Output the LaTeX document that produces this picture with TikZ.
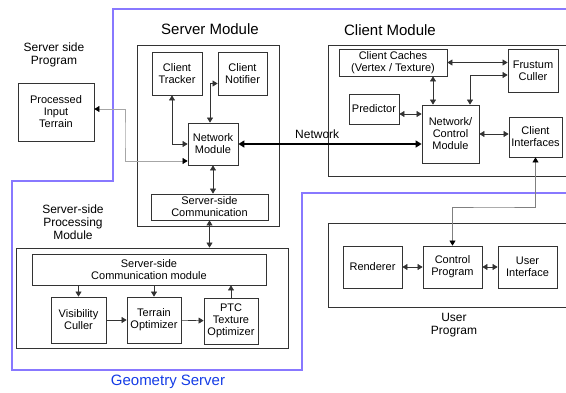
\documentclass[tikz,border=0pt]{standalone}
\usepackage{fontspec}
\setmainfont{Liberation Sans}
\usetikzlibrary{arrows.meta, positioning}
\definecolor{FrameBlue}{RGB}{136,120,255}
\definecolor{LabelBlue}{RGB}{20,60,230}

\begin{document}
\begin{tikzpicture}[
  x=1pt, y=-1pt,
  box/.style={
    draw=black!80,
    line width=0.8pt,
    inner sep=0pt,
    align=center,
    font=\fontsize{11}{12}\selectfont
  },
  modframe/.style={draw=black!80, line width=0.8pt, inner sep=0pt},
  modtitle/.style={font=\fontsize{15}{17}\selectfont},
  sidelabel/.style={align=center, font=\fontsize{12}{13}\selectfont},
  link/.style={{Triangle[length=5pt,width=6pt]}-{Triangle[length=5pt,width=6pt]}, black!80, line width=0.6pt},
  onelink/.style={-{Triangle[length=5pt,width=6pt]}, black!80, line width=0.6pt},
  greylink/.style={{Triangle[length=5pt,width=6pt,color=black]}-{Triangle[length=5pt,width=6pt,color=black]}, line width=0.6pt},
  netlink/.style={{Triangle[length=6pt,width=7pt]}-{Triangle[length=6pt,width=7pt]}, black, line width=2.2pt}
]

\useasboundingbox (0,0) rectangle (566,392);
\clip (0,0) rectangle (566,392);

\draw[FrameBlue, line width=1.4pt]
  (570,9) -- (113,9) -- (113,181) -- (12,181) -- (12,370) -- (302,370) -- (302,193) -- (570,193);

\node[font=\fontsize{15}{17}\selectfont, text=LabelBlue] (geoserver) at (168,382) {Geometry Server};

% server side
\node[modtitle] (servtitle) at (210,29) {Server Module};
\node[modframe, minimum width=142, minimum height=181] (servmod) at (208,135.5) {};

\node[sidelabel] (servprog) at (54,55) {Server side\\Program};
\node[box, minimum width=76, minimum height=58] (pit) at (56,112) {Processed\\Input\\Terrain};

\node[box, minimum width=50, minimum height=43] (tracker) at (177,73.5) {Client\\Tracker};
\node[box, minimum width=49, minimum height=43] (notifier) at (242.5,73.5) {Client\\Notifier};
\node[box, minimum width=50, minimum height=42] (netmod) at (213,144) {Network\\Module};
\node[box, minimum width=117, minimum height=26] (sscomm) at (209.5,207) {Server-side\\Communication};

\node[sidelabel] (proclabel) at (73,222) {Server-side\\Processing\\Module};
\node[modframe, minimum width=272, minimum height=100] (procmod) at (152,298) {};
\node[box, minimum width=234, minimum height=31] (commmod) at (149,269.5) {Server-side\\Communication module};
\node[box, minimum width=55, minimum height=46] (viscull) at (78.5,320) {Visibility\\Culler};
\node[box, minimum width=54, minimum height=46] (terrain) at (154,320) {Terrain\\Optimizer};
\node[box, minimum width=54, minimum height=46] (ptc) at (231,321) {PTC\\Texture\\Optimizer};

\coordinate (pitbend) at (125,135);

\draw[link] ([xshift=-5pt]tracker.south) |- (netmod.west);
\draw[link] ([xshift=-3pt]netmod.north) |- ([yshift=-10pt]notifier.west);
\draw[greylink, draw=black!35] ([yshift=-17pt]netmod.west) -| (pitbend) |- ([yshift=3pt]pit.east);
\draw[link] (netmod.south) -- (netmod.south |- sscomm.north);
\draw[link] (sscomm.south) -- (sscomm.south |- procmod.north);
\draw[onelink] (viscull.north |- commmod.south) -- (viscull.north);
\draw[onelink] (terrain.north |- commmod.south) -- (terrain.north);
\draw[onelink] (ptc.north) -- (ptc.north |- commmod.south);
\draw[onelink] (viscull) -- (terrain);
\draw[onelink] (terrain) -- (ptc);

% client side
\node[modtitle] (clienttitle) at (390,30) {Client Module};
\node[modframe, minimum width=252, minimum height=131] (clientmod) at (454,110.5) {};

\node[box, minimum width=108, minimum height=27] (caches) at (393,62.5) {Client Caches\\(Vertex / Texture)};
\node[box, minimum width=50, minimum height=43] (frustum) at (533,70.5) {Frustum\\Culler};
\node[box, minimum width=50, minimum height=30] (predictor) at (374,109) {Predictor};
\node[box, minimum width=57, minimum height=58] (netctrl) at (450.5,134) {Network/\\Control\\Module};
\node[box, minimum width=53, minimum height=40] (interf) at (535.5,137) {Client\\Interfaces};

\draw[link] (caches.east) -- (caches.east -| frustum.west);
\draw[link] ([xshift=19.5pt]netctrl.north) |- ([yshift=-4.5pt]frustum.west);
\draw[link] ([xshift=40pt]caches.south) -- ([xshift=40pt]caches.south |- netctrl.north);
\draw[link] ([yshift=-5pt]predictor.east) -- ([yshift=-5pt]predictor.east -| netctrl.west);
\draw[link] (netctrl.east) -- (netctrl.east -| interf.west);

\draw[netlink] (netmod.east) -- (netmod.east -| netctrl.west)
  node[pos=0.43, above=1pt, font=\fontsize{12}{13}\selectfont] {Network};

% user program
\node[modframe, minimum width=252, minimum height=84] (userprog) at (454,265) {};
\node[sidelabel] (userlabel) at (454,325) {User\\Program};

\node[box, minimum width=59, minimum height=42] (renderer) at (372.5,267) {Renderer};
\node[box, minimum width=59, minimum height=42] (ctrlprog) at (452.5,267) {Control\\Program};
\node[box, minimum width=59, minimum height=42] (userif) at (527.5,267) {User\\Interface};

\coordinate (ifbend) at (494,207);

\draw[greylink, draw=black!50] (interf.south) |- (ifbend) -| (ctrlprog.north);
\draw[link] (renderer) -- (ctrlprog);
\draw[link] (ctrlprog) -- (userif);

\end{tikzpicture}
\end{document}
